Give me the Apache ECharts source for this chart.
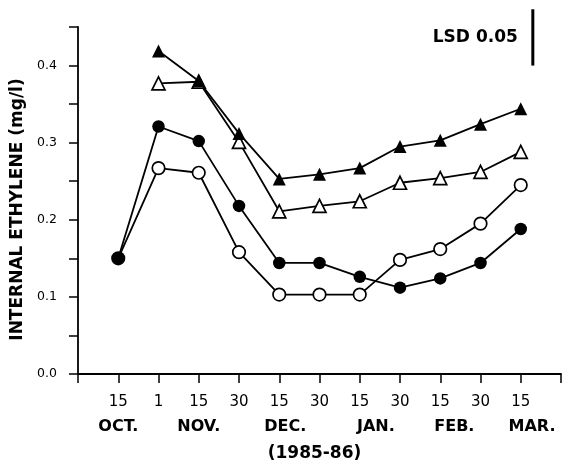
<!DOCTYPE html>
<html>
<head>
<meta charset="utf-8">
<script src="https://cdn.jsdelivr.net/npm/echarts@6/dist/echarts.min.js"></script>
<style>
html,body{margin:0;padding:0;background:#fff;}
#c{width:562px;height:462px;}
</style>
</head>
<body>
<div id="c"></div>
<script>
// Sampling dates (index 0..10)
const dayLabels = ['15','1','15','30','15','30','15','30','15','30','15'];
const monthLabels = ['OCT.','NOV.','DEC.','JAN.','FEB.','MAR.'];
const monthPositions = [0, 2, 4.15, 6.4, 8.35, 10.28];
const yTickLabels = ['0.0','0.1','0.2','0.3','0.4'];

// Internal ethylene (mg/l)
const filledTriangle = [null, 0.419, 0.380, 0.312, 0.253, 0.259, 0.267, 0.295, 0.303, 0.324, 0.344];
const openTriangle   = [null, 0.377, 0.379, 0.301, 0.211, 0.218, 0.224, 0.248, 0.254, 0.262, 0.288];
const filledCircle   = [0.150, 0.321, 0.302, 0.218, 0.144, 0.144, 0.126, 0.112, 0.124, 0.144, 0.188];
const openCircle     = [0.150, 0.267, 0.261, 0.158, 0.103, 0.103, 0.103, 0.148, 0.162, 0.195, 0.245];

// LSD bar
const lsdValue = 0.073;
const lsdX = 10.3;
const lsdBase = 0.40;

function pairs(arr){
  const out = [];
  arr.forEach((v,i)=>{ if(v!==null) out.push([i,v]); });
  return out;
}

const FONT = '"DejaVu Sans", sans-serif';
const chart = echarts.init(document.getElementById('c'), null, {renderer:'canvas'});

function lineSeries(name, arr, symbol, filled, z){
  return {
    name: name, type:'line', data: pairs(arr), symbol: symbol,
    symbolSize: symbol==='circle' ? 12.5 : 13,
    z: z,
    lineStyle:{color:'#000', width:1.8},
    itemStyle:{color: filled ? '#000' : '#fff', borderColor:'#000', borderWidth: filled ? 0 : 1.7},
    emphasis:{disabled:true},
    animation:false
  };
}

chart.setOption({
  animation:false,
  backgroundColor:'#fff',
  grid:{left:78, right:1, top:27, bottom:88, containLabel:false, outerBoundsMode:'none'},
  xAxis:[{
    type:'value', min:-1, max:11, interval:1,
    axisLine:{onZero:false, lineStyle:{color:'#000', width:1.8}},
    axisTick:{show:true, inside:false, length:9, lineStyle:{color:'#000', width:1.5}},
    splitLine:{show:false},
    axisLabel:{
      margin:21, color:'#000', fontFamily:FONT, fontSize:15,
      formatter:function(v){ const i=Math.round(v); return (i>=0 && i<dayLabels.length) ? dayLabels[i] : ''; }
    },
    name:'(1985-86)', nameLocation:'middle', nameGap:71,
    nameTextStyle:{color:'#000', fontFamily:FONT, fontSize:17, fontWeight:'bold', padding:[0,10,0,0]}
  },{
    type:'value', min:-1, max:11, position:'bottom',
    axisLine:{show:false}, axisTick:{show:false}, splitLine:{show:false},
    axisLabel:{
      customValues: monthPositions, margin:45, color:'#000', fontFamily:FONT, fontSize:16, fontWeight:'bold',
      formatter:function(v){ const k=monthPositions.indexOf(v); return k>=0 ? monthLabels[k] : ''; }
    }
  }],
  yAxis:{
    type:'value', min:0, max:0.45, interval:0.05,
    axisLine:{show:true, onZero:false, lineStyle:{color:'#000', width:1.8}},
    axisTick:{show:true, length:9, lineStyle:{color:'#000', width:1.5}},
    splitLine:{show:false},
    axisLabel:{
      customValues:[0,0.1,0.2,0.3,0.4], margin:21, color:'#000', fontFamily:FONT, fontSize:12.5,
      formatter:function(v){ const i=Math.round(v*10); return yTickLabels[i] || ''; }
    },
    name:'INTERNAL ETHYLENE (mg/l)', nameLocation:'middle', nameGap:44, nameRotate:90,
    nameTextStyle:{color:'#000', fontFamily:FONT, fontSize:17, fontWeight:'bold', padding:[0,18,0,0]}
  },
  series:[
    lineSeries('open circle', openCircle, 'circle', false, 2),
    lineSeries('filled circle', filledCircle, 'circle', true, 3),
    lineSeries('open triangle', openTriangle, 'triangle', false, 4),
    lineSeries('filled triangle', filledTriangle, 'triangle', true, 5),
    {
      type:'line', data:[[lsdX, lsdBase],[lsdX, lsdBase+lsdValue]], symbol:'none', clip:false,
      lineStyle:{color:'#000', width:3}, z:6, animation:false,
      label:{show:false}
    }
  ],
  graphic:[]
});

// LSD text positioned next to the bar
const lsdPt = chart.convertToPixel({xAxisIndex:0, yAxisIndex:0}, [lsdX, lsdBase + lsdValue*0.5]);
chart.setOption({graphic:[{
  type:'text', x: lsdPt[0]-15, y: lsdPt[1],
  style:{text:'LSD 0.05', fill:'#000', font:'bold 17px "DejaVu Sans", sans-serif', align:'right', verticalAlign:'middle'}
}]});
</script>
</body>
</html>
